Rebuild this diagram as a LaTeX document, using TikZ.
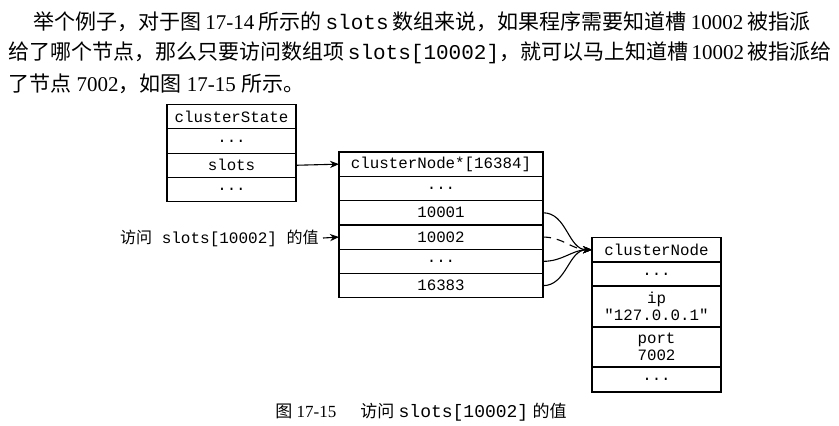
\documentclass[tikz,border=0pt]{standalone}
\usepackage{fontspec}
\setmainfont{Liberation Serif}
\setmonofont{Liberation Mono}
\newfontfamily\cjk{Noto Sans CJK SC}
\usetikzlibrary{arrows.meta, positioning}
\newcommand{\codefont}{\fontsize{7.9}{8.6}\selectfont\ttfamily}
\newcommand{\bodyfont}{\fontsize{10.5}{15}\selectfont}
\tikzset{
  cell/.style     = {draw, line width=0.6pt, outer sep=0pt, inner sep=0pt,
                     minimum width=64.5pt, minimum height=12.15pt,
                     font=\codefont, align=center},
  widecell/.style = {cell, minimum width=102pt},
  arrow/.style    = {-{Stealth[length=4.5pt, width=3.6pt]}, line width=0.55pt},
  textline/.style = {anchor=west, inner sep=0pt, font=\bodyfont},
}

\begin{document}
\begin{tikzpicture}[x=0.5pt, y=-0.5pt]
  \useasboundingbox (0,0) rectangle (839,425);
  % paragraph above the figure
  \node[textline] (line1) at (33,22) {\makebox[388.5pt][s]{{\cjk 举个例子，对于图} 17-14 {\cjk 所示的} \texttt{slots} {\cjk 数组来说，如果程序需要知道槽} 10002 {\cjk 被指派}}};
  \node[textline] (line2) at (8,53) {\makebox[401pt][s]{{\cjk 给了哪个节点，那么只要访问数组项} \texttt{slots[10002]}{\cjk ，就可以马上知道槽} 10002 {\cjk 被指派给}}};
  \node[textline] (line3) at (8,84) {{\cjk 了节点} 7002{\cjk ，如图} 17-15 {\cjk 所示。}};

  % clusterState
  \node[cell, anchor=north] (cs0) at (231.5,104.5) {clusterState};
  \node[cell, below=0pt of cs0] (cs1) {...};
  \node[cell, below=0pt of cs1] (cs2) {slots};
  \node[cell, below=0pt of cs2] (cs3) {...};

  % slots array
  \node[widecell, anchor=north] (arr0) at (441,152) {clusterNode*[16384]};
  \node[widecell, below=0pt of arr0] (arr1) {...};
  \node[widecell, below=0pt of arr1] (arr2) {10001};
  \node[widecell, below=0pt of arr2] (arr3) {10002};
  \node[widecell, below=0pt of arr3] (arr4) {...};
  \node[widecell, below=0pt of arr4] (arr5) {16383};

  % clusterNode
  \node[cell, anchor=north, minimum height=12.25pt] (cn0) at (656.5,237.5) {clusterNode};
  \node[cell, below=0pt of cn0, minimum height=12pt] (cn1) {...};
  \node[cell, below=0pt of cn1, minimum height=20.5pt] (cn2) {ip\\"127.0.0.1"};
  \node[cell, below=0pt of cn2, minimum height=20pt] (cn3) {port\\7002};
  \node[cell, below=0pt of cn3, minimum height=12.5pt] (cn4) {...};

  \draw[arrow] (cs2.east) -- (arr0.west);

  \node[anchor=east, inner sep=2pt, font=\fontsize{8}{9}\selectfont\ttfamily] (access) at (323,238)
    {{\cjk 访问} slots[10002] {\cjk 的值}};
  \draw[arrow] (access.east) -- (arr3.west);

  \draw[arrow] (arr2.east) to[out=0, in=180] (cn0.west);
  \draw[arrow, dash pattern=on 4pt off 3pt] (arr3.east) to[out=0, in=180] (cn0.west);
  \draw[arrow] (arr4.east) to[out=0, in=180] (cn0.west);
  \draw[arrow] (arr5.east) to[out=0, in=180] (cn0.west);

  % caption
  \node[inner sep=0pt, font=\fontsize{8.5}{10}\selectfont] (caption) at (421,412)
    {{\cjk 图} 17-15\hspace{12pt}{\cjk 访问} {\fontsize{9}{10}\selectfont\ttfamily slots[10002]} {\cjk 的值}};
\end{tikzpicture}
\end{document}
